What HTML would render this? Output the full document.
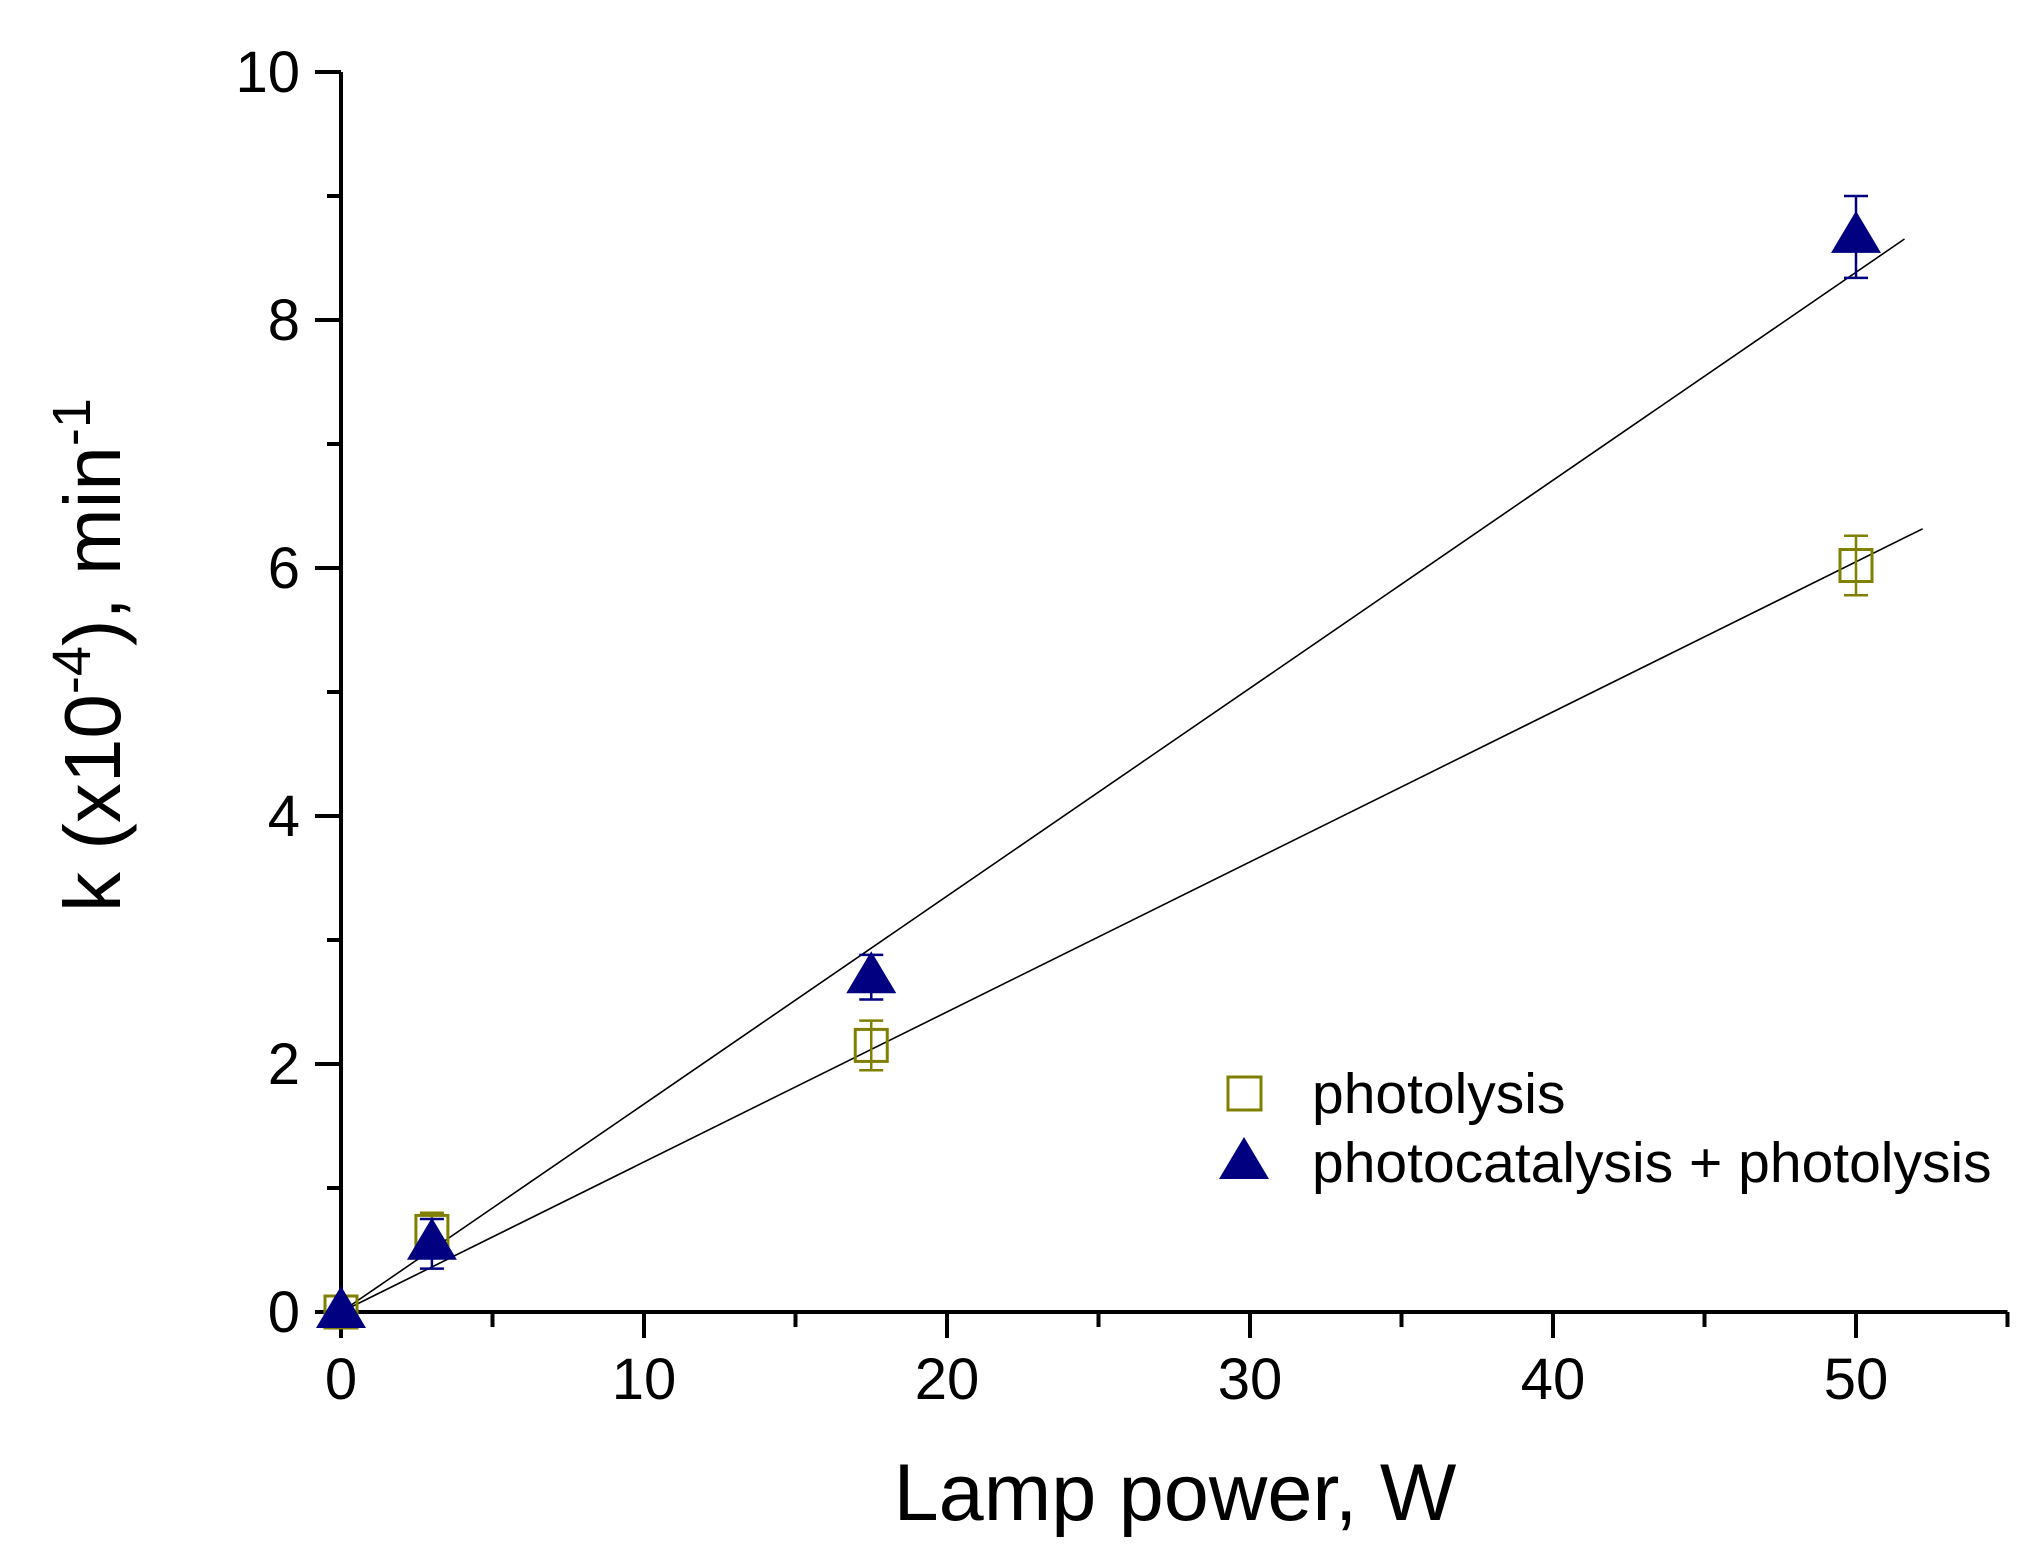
<!DOCTYPE html>
<html><head><meta charset="utf-8"><style>
html,body{margin:0;padding:0;background:#fff;}
svg{display:block;font-family:"Liberation Sans",Arial,sans-serif;}
</style></head><body>
<svg id="chart" width="2034" height="1560" viewBox="0 0 2034 1560">
<g id="axes"></g>
<g id="fits"></g>
<g id="marks"></g>
<text x="1175" y="1520" font-size="81" text-anchor="middle">Lamp power, W</text>
<text transform="translate(120,655) rotate(-90)" font-size="80" text-anchor="middle">k (x10<tspan dy="-30" font-size="54">-4</tspan><tspan dy="30">), min</tspan><tspan dy="-30" font-size="54">-1</tspan></text>
<g>
<rect x="1228" y="1077" width="33" height="33" fill="none" stroke="#808000" stroke-width="3"/>
<text x="1312" y="1113" font-size="57">photolysis</text>
<polygon points="1244,1137 1269,1179 1219,1179" fill="#000080"/>
<text x="1312" y="1182" font-size="57">photocatalysis + photolysis</text>
</g>
</svg>
<script>
const power = [0, 3, 17.5, 50];
const photolysis = [0, 0.65, 2.15, 6.02];
const photolysisErr = [0, 0.15, 0.2, 0.24];
const catalysis = [0, 0.55, 2.7, 8.67];
const catalysisErr = [0, 0.2, 0.18, 0.33];
const photolysisSlope = 0.121;
const catalysisSlope = 0.1677;
const xTicks = [0, 10, 20, 30, 40, 50];
const yTicks = [0, 2, 4, 6, 8, 10];

const NS = "http://www.w3.org/2000/svg";
const X = v => 341 + v * 30.3;
const Y = v => 1312 - v * 124;
function mk(tag, attrs, parent) {
  const e = document.createElementNS(NS, tag);
  for (const k in attrs) e.setAttribute(k, attrs[k]);
  parent.appendChild(e);
  return e;
}
const axes = document.getElementById('axes');
let el = mk('line', {x1: X(0), y1: Y(0), x2: X(55), y2: Y(0), stroke: '#000', 'stroke-width': 4}, axes);


el = mk('line', {x1: X(0), y1: Y(0) + 2, x2: X(0), y2: Y(10), stroke: '#000', 'stroke-width': 4}, axes);


for (let v = 0; v <= 55; v += 5) {
  const major = v % 10 === 0;
  el = mk('line', {x1: X(v), y1: Y(0), x2: X(v), y2: Y(0) + (major ? 26 : 15), stroke: '#000', 'stroke-width': 4}, axes);
  
  
}
xTicks.forEach(v => {
  el = mk('text', {x: X(v), y: 1399, 'font-size': 58, 'text-anchor': 'middle'}, axes);
  el.textContent = v;
  
  
});
for (let v = 0; v <= 10; v += 1) {
  const major = v % 2 === 0;
  el = mk('line', {x1: X(0), y1: Y(v), x2: X(0) - (major ? 26 : 14), y2: Y(v), stroke: '#000', 'stroke-width': 4}, axes);
  
  
}
yTicks.forEach(v => {
  el = mk('text', {x: 300, y: Y(v) + 20, 'font-size': 58, 'text-anchor': 'end'}, axes);
  el.textContent = v;
  
  
});
const fits = document.getElementById('fits');
el = mk('line', {x1: X(0.3), y1: Y(0.3 * catalysisSlope), x2: X(51.6), y2: Y(51.6 * catalysisSlope), stroke: '#000', 'stroke-width': 1.6}, fits);


el = mk('line', {x1: X(0.3), y1: Y(0.3 * photolysisSlope), x2: X(52.2), y2: Y(52.2 * photolysisSlope), stroke: '#000', 'stroke-width': 1.6}, fits);



const marks = document.getElementById('marks');
function errBar(x, y, e, color, name) {
  if (!e) return;
  const g = mk('g', {stroke: color, 'stroke-width': 2.5}, marks);
  
  
  mk('line', {x1: X(x), y1: Y(y + e), x2: X(x), y2: Y(y - e)}, g);
  mk('line', {x1: X(x) - 12, y1: Y(y + e), x2: X(x) + 12, y2: Y(y + e)}, g);
  mk('line', {x1: X(x) - 12, y1: Y(y - e), x2: X(x) + 12, y2: Y(y - e)}, g);
}
power.forEach((p, i) => {
  errBar(p, photolysis[i], photolysisErr[i], '#808000', 'photolysis-error-bar');
  el = mk('rect', {x: X(p) - 16, y: Y(photolysis[i]) - 16, width: 32, height: 32, fill: 'none', stroke: '#808000', 'stroke-width': 3}, marks);
  
  
});
power.forEach((p, i) => {
  errBar(p, catalysis[i], catalysisErr[i], '#000080', 'photocatalysis-error-bar');
  const cx = X(p), cy = Y(catalysis[i]);
  el = mk('polygon', {points: `${cx},${cy - 26} ${cx + 25},${cy + 16} ${cx - 25},${cy + 16}`, fill: '#000080'}, marks);
  
  
});
</script>
</body></html>
